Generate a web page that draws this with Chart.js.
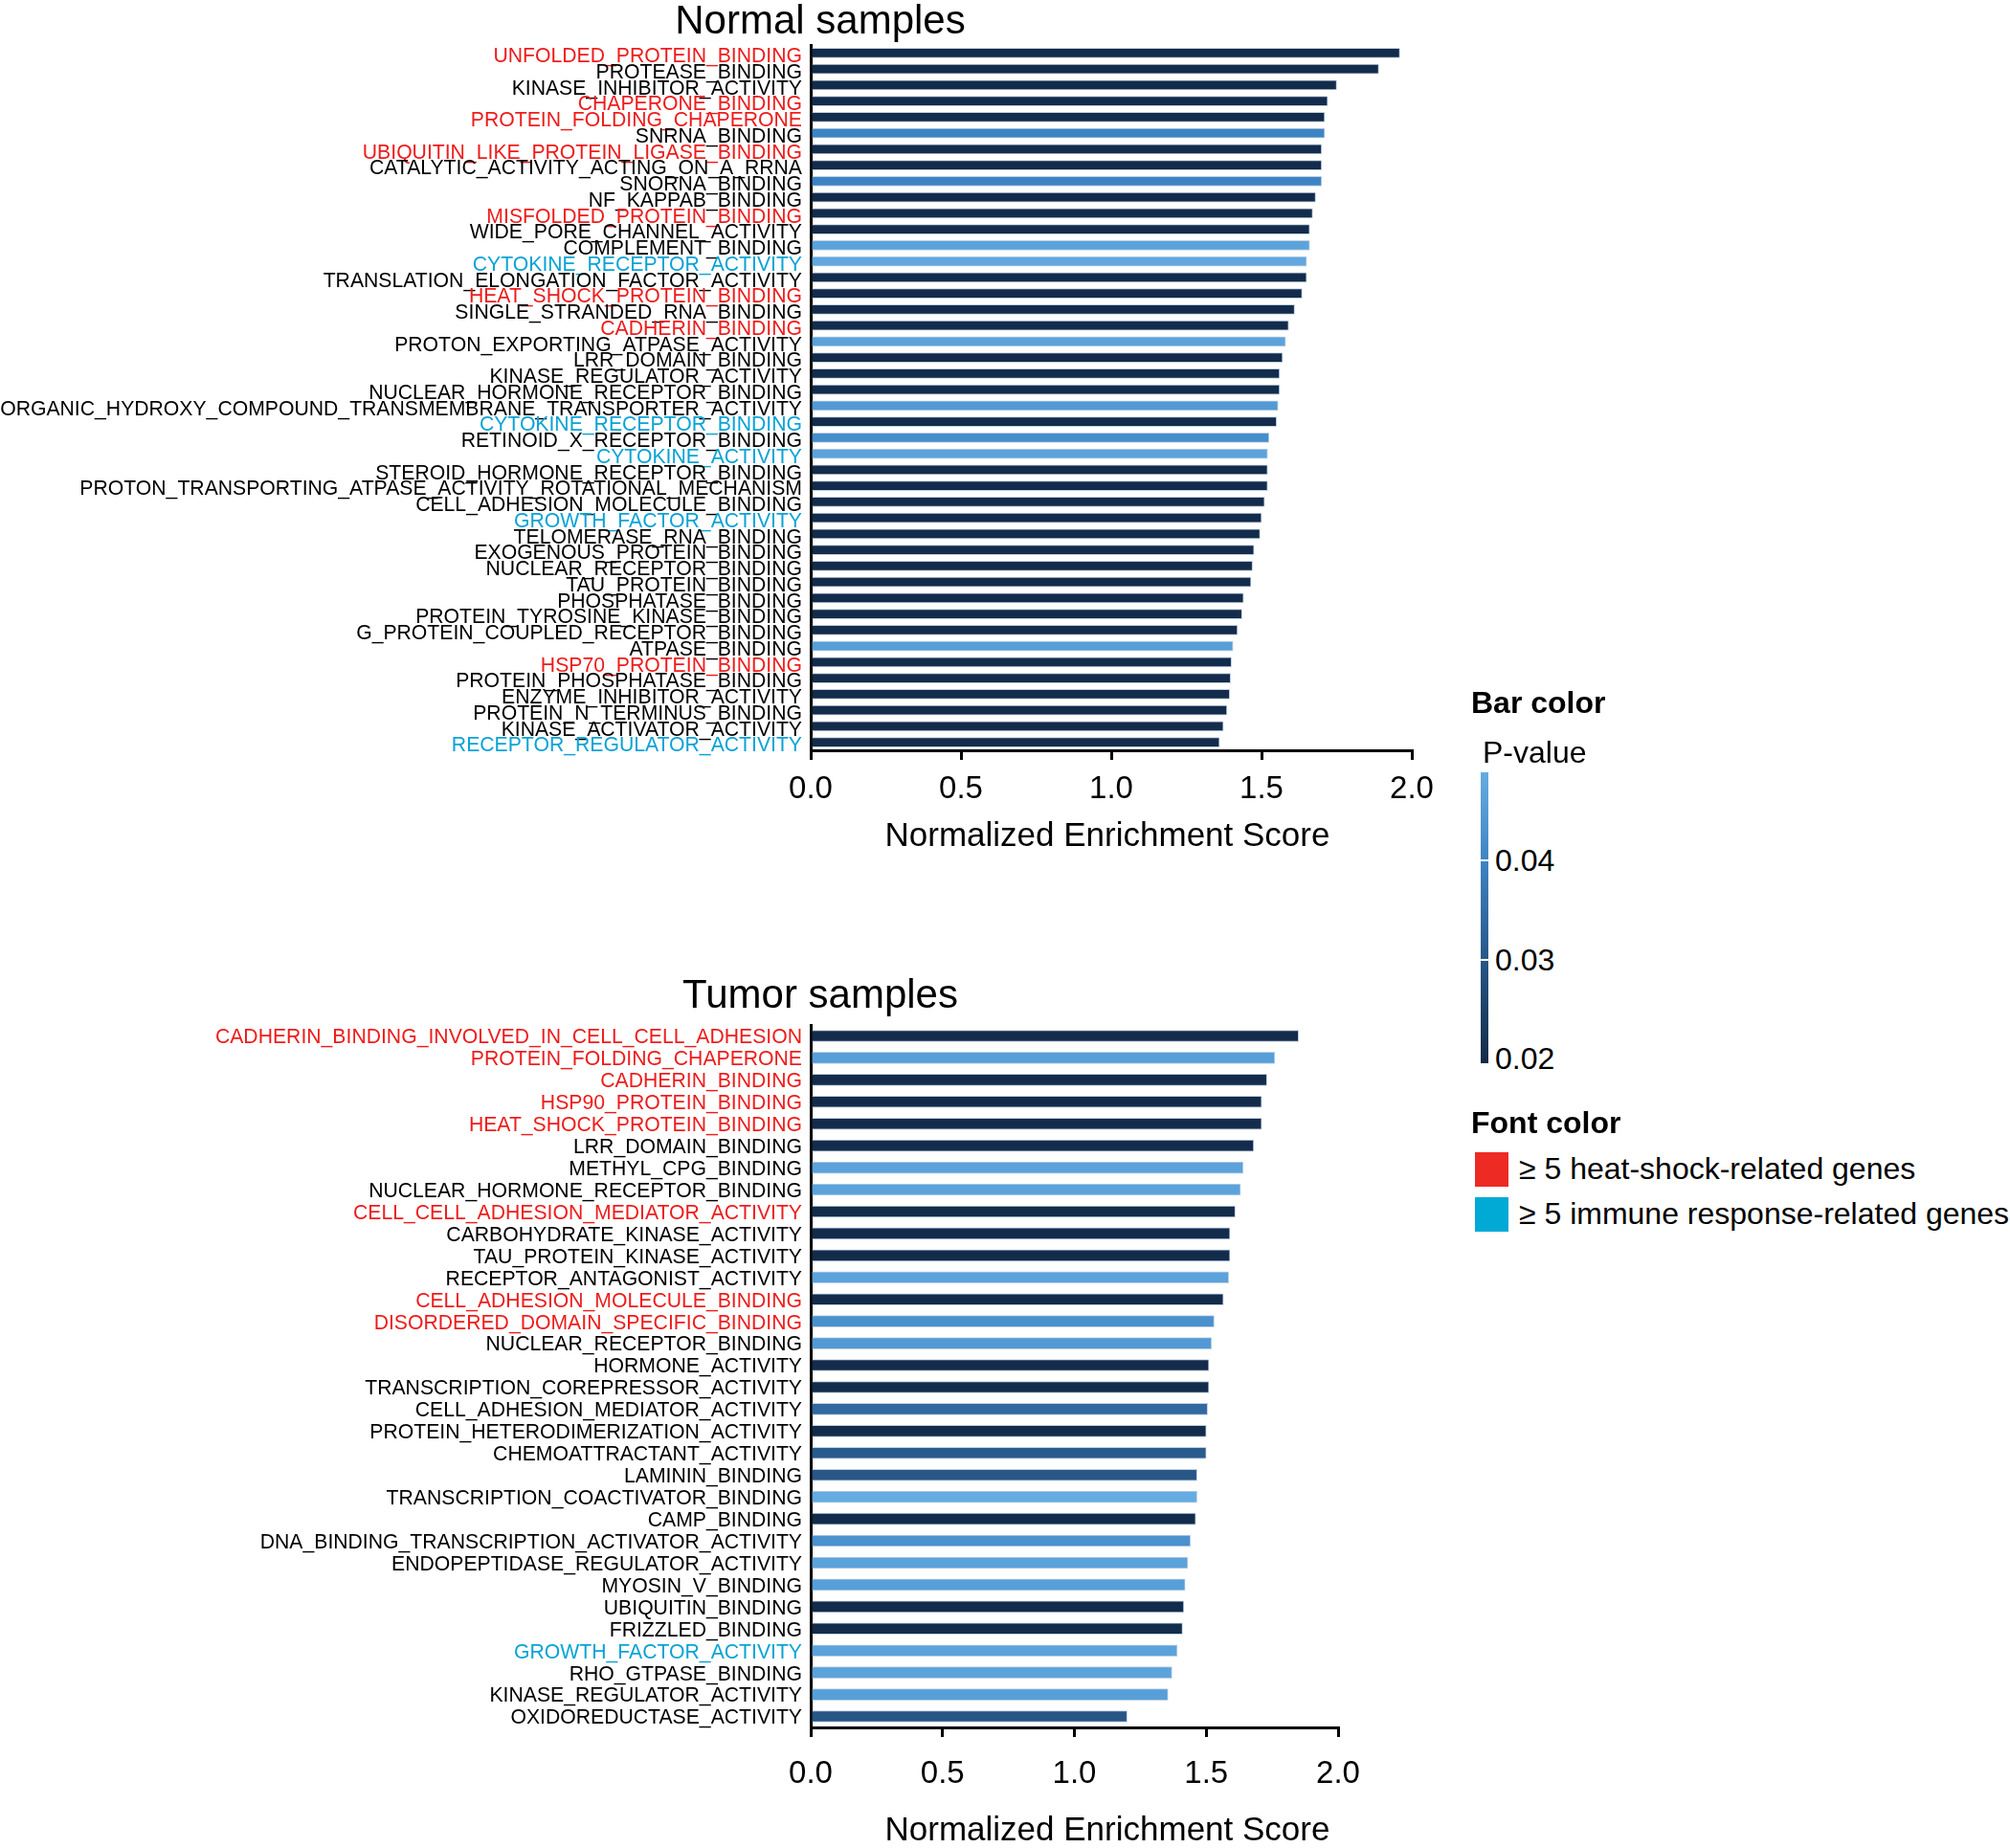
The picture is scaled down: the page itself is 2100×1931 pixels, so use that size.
<!DOCTYPE html>
<html>
<head>
<meta charset="utf-8">
<script src="https://cdn.jsdelivr.net/npm/chart.js@4.4.1/dist/chart.umd.min.js"></script>
<style>
  body { margin: 0; background: #fff; width: 2100px; height: 1931px; position: relative; overflow: hidden;
         font-family: 'Liberation Sans', Arial, sans-serif; color: #000; }
  canvas { position: absolute; left: 0; }
  #normal { top: 0; }
  #tumor { top: 1000px; }
  .lg { position: absolute; white-space: nowrap; font-size: 32px; line-height: 36px; }
  .lg.head { font-weight: bold; }
  #pbar { position: absolute; left: 1547px; top: 807px; width: 8px; height: 304px; }
  .cbtick { position: absolute; left: 1547px; width: 8px; height: 2px; background: #fff; }
  .sw { position: absolute; left: 1541px; width: 35px; height: 36px; }
</style>
</head>
<body>
<canvas id="normal" width="1540" height="900"></canvas>
<canvas id="tumor" width="1540" height="931"></canvas>

<div class="lg head" style="left:1537px; top:716px;">Bar color</div>
<div class="lg" style="left:1549px; top:768px;">P-value</div>
<div id="pbar"></div>
<div class="cbtick" style="top:898px;"></div>
<div class="cbtick" style="top:1002px;"></div>
<div class="lg" style="left:1562px; top:881px;">0.04</div>
<div class="lg" style="left:1562px; top:985px;">0.03</div>
<div class="lg" style="left:1562px; top:1088px;">0.02</div>
<div class="lg head" style="left:1537px; top:1155px;">Font color</div>
<div class="sw" style="top:1204px; background:#ee2a24;"></div>
<div class="lg" style="left:1587px; top:1203px;">≥ 5 heat-shock-related genes</div>
<div class="sw" style="top:1251px; background:#00aad4;"></div>
<div class="lg" style="left:1587px; top:1250px;">≥ 5 immune response-related genes</div>

<script>
// ---- Normal samples ----
const normalTerms = [
  'UNFOLDED_PROTEIN_BINDING', 'PROTEASE_BINDING', 'KINASE_INHIBITOR_ACTIVITY', 'CHAPERONE_BINDING',
  'PROTEIN_FOLDING_CHAPERONE', 'SNRNA_BINDING', 'UBIQUITIN_LIKE_PROTEIN_LIGASE_BINDING',
  'CATALYTIC_ACTIVITY_ACTING_ON_A_RRNA', 'SNORNA_BINDING', 'NF_KAPPAB_BINDING', 'MISFOLDED_PROTEIN_BINDING',
  'WIDE_PORE_CHANNEL_ACTIVITY', 'COMPLEMENT_BINDING', 'CYTOKINE_RECEPTOR_ACTIVITY',
  'TRANSLATION_ELONGATION_FACTOR_ACTIVITY', 'HEAT_SHOCK_PROTEIN_BINDING', 'SINGLE_STRANDED_RNA_BINDING',
  'CADHERIN_BINDING', 'PROTON_EXPORTING_ATPASE_ACTIVITY', 'LRR_DOMAIN_BINDING', 'KINASE_REGULATOR_ACTIVITY',
  'NUCLEAR_HORMONE_RECEPTOR_BINDING', 'ORGANIC_HYDROXY_COMPOUND_TRANSMEMBRANE_TRANSPORTER_ACTIVITY',
  'CYTOKINE_RECEPTOR_BINDING', 'RETINOID_X_RECEPTOR_BINDING', 'CYTOKINE_ACTIVITY',
  'STEROID_HORMONE_RECEPTOR_BINDING', 'PROTON_TRANSPORTING_ATPASE_ACTIVITY_ROTATIONAL_MECHANISM',
  'CELL_ADHESION_MOLECULE_BINDING', 'GROWTH_FACTOR_ACTIVITY', 'TELOMERASE_RNA_BINDING',
  'EXOGENOUS_PROTEIN_BINDING', 'NUCLEAR_RECEPTOR_BINDING', 'TAU_PROTEIN_BINDING', 'PHOSPHATASE_BINDING',
  'PROTEIN_TYROSINE_KINASE_BINDING', 'G_PROTEIN_COUPLED_RECEPTOR_BINDING', 'ATPASE_BINDING',
  'HSP70_PROTEIN_BINDING', 'PROTEIN_PHOSPHATASE_BINDING', 'ENZYME_INHIBITOR_ACTIVITY',
  'PROTEIN_N_TERMINUS_BINDING', 'KINASE_ACTIVATOR_ACTIVITY', 'RECEPTOR_REGULATOR_ACTIVITY'
];
const normalNES = [
  1.96, 1.89, 1.75, 1.72, 1.71, 1.71, 1.70, 1.70, 1.70, 1.68, 1.67,
  1.66, 1.66, 1.65, 1.65, 1.635, 1.61, 1.59, 1.58, 1.57, 1.56, 1.56,
  1.555, 1.55, 1.525, 1.52, 1.52, 1.52, 1.51, 1.50, 1.495, 1.475, 1.47,
  1.465, 1.44, 1.435, 1.42, 1.405, 1.40, 1.397, 1.394, 1.385, 1.373, 1.36
];
const normalP = [
  0.02, 0.02, 0.02, 0.02, 0.02, 0.040, 0.02, 0.02, 0.040, 0.02, 0.02,
  0.02, 0.047, 0.048, 0.02, 0.02, 0.02, 0.02, 0.047, 0.02, 0.02, 0.02,
  0.045, 0.02, 0.042, 0.047, 0.02, 0.02, 0.02, 0.02, 0.02, 0.02, 0.02,
  0.02, 0.02, 0.02, 0.02, 0.046, 0.02, 0.02, 0.02, 0.02, 0.02, 0.02
];
const normalGroup = [
  'heat', '', '', 'heat', 'heat', '', 'heat', '', '', '', 'heat',
  '', '', 'immune', '', 'heat', '', 'heat', '', '', '', '',
  '', 'immune', '', 'immune', '', '', '', 'immune', '', '', '',
  '', '', '', '', '', 'heat', '', '', '', '', 'immune'
];

// ---- Tumor samples ----
const tumorTerms = [
  'CADHERIN_BINDING_INVOLVED_IN_CELL_CELL_ADHESION', 'PROTEIN_FOLDING_CHAPERONE', 'CADHERIN_BINDING',
  'HSP90_PROTEIN_BINDING', 'HEAT_SHOCK_PROTEIN_BINDING', 'LRR_DOMAIN_BINDING', 'METHYL_CPG_BINDING',
  'NUCLEAR_HORMONE_RECEPTOR_BINDING', 'CELL_CELL_ADHESION_MEDIATOR_ACTIVITY', 'CARBOHYDRATE_KINASE_ACTIVITY',
  'TAU_PROTEIN_KINASE_ACTIVITY', 'RECEPTOR_ANTAGONIST_ACTIVITY', 'CELL_ADHESION_MOLECULE_BINDING',
  'DISORDERED_DOMAIN_SPECIFIC_BINDING', 'NUCLEAR_RECEPTOR_BINDING', 'HORMONE_ACTIVITY',
  'TRANSCRIPTION_COREPRESSOR_ACTIVITY', 'CELL_ADHESION_MEDIATOR_ACTIVITY', 'PROTEIN_HETERODIMERIZATION_ACTIVITY',
  'CHEMOATTRACTANT_ACTIVITY', 'LAMININ_BINDING', 'TRANSCRIPTION_COACTIVATOR_BINDING', 'CAMP_BINDING',
  'DNA_BINDING_TRANSCRIPTION_ACTIVATOR_ACTIVITY', 'ENDOPEPTIDASE_REGULATOR_ACTIVITY', 'MYOSIN_V_BINDING',
  'UBIQUITIN_BINDING', 'FRIZZLED_BINDING', 'GROWTH_FACTOR_ACTIVITY', 'RHO_GTPASE_BINDING',
  'KINASE_REGULATOR_ACTIVITY', 'OXIDOREDUCTASE_ACTIVITY'
];
const tumorNES = [
  1.85, 1.76, 1.73, 1.71, 1.71, 1.68, 1.64, 1.63, 1.61, 1.59, 1.59,
  1.585, 1.565, 1.53, 1.52, 1.51, 1.51, 1.505, 1.50, 1.50, 1.465, 1.465,
  1.46, 1.44, 1.43, 1.42, 1.415, 1.41, 1.39, 1.37, 1.355, 1.20
];
const tumorP = [
  0.02, 0.046, 0.02, 0.02, 0.02, 0.02, 0.047, 0.047, 0.02, 0.02, 0.02,
  0.047, 0.02, 0.043, 0.045, 0.02, 0.02, 0.034, 0.02, 0.031, 0.030, 0.049,
  0.02, 0.043, 0.047, 0.046, 0.02, 0.02, 0.047, 0.047, 0.046, 0.030
];
const tumorGroup = [
  'heat', 'heat', 'heat', 'heat', 'heat', '', '', '', 'heat', '', '',
  '', 'heat', 'heat', '', '', '', '', '', '', '', '',
  '', '', '', '', '', '', 'immune', '', '', ''
];

const xTicks = [0, 0.5, 1.0, 1.5, 2.0];

// p-value colour scale (same stops feed the colour bar)
const pStops = [0.0195, 0.03, 0.04, 0.049];
const pRGB = [[19, 42, 72], [40, 86, 135], [62, 132, 196], [100, 172, 226]];
const labelColor = { heat: '#ee1c1c', immune: '#0aa3d6', '': '#000000' };

function pColor(p) {
  if (p <= pStops[0]) return `rgb(${pRGB[0].join(',')})`;
  for (let i = 1; i < pStops.length; i++) {
    if (p <= pStops[i]) {
      const t = (p - pStops[i - 1]) / (pStops[i] - pStops[i - 1]);
      const c = pRGB[i - 1].map((v, k) => Math.round(v + t * (pRGB[i][k] - v)));
      return `rgb(${c.join(',')})`;
    }
  }
  return `rgb(${pRGB[pRGB.length - 1].join(',')})`;
}

// colour bar
const lo = pStops[0], hi = pStops[pStops.length - 1];
document.getElementById('pbar').style.background = 'linear-gradient(to top,' +
  pStops.map((s, i) => `rgb(${pRGB[i].join(',')}) ${((s - lo) / (hi - lo) * 100).toFixed(1)}%`).join(',') + ')';

Chart.defaults.font.family = "'Liberation Sans', Arial, sans-serif";
Chart.defaults.color = '#000';

// panel title + axis title, placed by hand like in the figure
const panelText = {
  id: 'panelText',
  afterDraw(chart, args, opts) {
    const ctx = chart.ctx;
    ctx.save();
    ctx.fillStyle = '#000';
    ctx.textAlign = 'center';
    ctx.textBaseline = 'middle';
    opts.items.forEach(t => {
      ctx.font = t.size + "px 'Liberation Sans', Arial, sans-serif";
      ctx.fillText(t.text, t.x, t.y);
    });
    ctx.restore();
  }
};

function makeChart(id, terms, nes, pvals, groups, cfg) {
  return new Chart(document.getElementById(id), {
    type: 'bar',
    data: {
      labels: terms,
      datasets: [{
        data: nes,
        backgroundColor: pvals.map(pColor),
        borderColor: 'rgba(175,198,222,0.8)',
        borderWidth: 1,
        barThickness: cfg.barThickness
      }]
    },
    options: {
      indexAxis: 'y',
      responsive: false,
      animation: false,
      devicePixelRatio: 1,
      layout: { padding: { top: cfg.top, right: cfg.right, left: 0, bottom: 0 } },
      plugins: {
        legend: { display: false },
        tooltip: { enabled: false },
        panelText: { items: [
          { text: cfg.title, x: 857, y: cfg.titleY, size: 42 },
          { text: 'Normalized Enrichment Score', x: 1157, y: cfg.axisTitleY, size: 35 }
        ] }
      },
      scales: {
        x: {
          min: 0, max: 2,
          afterBuildTicks: s => { s.ticks = xTicks.map(v => ({ value: v })); },
          afterFit: s => { s.height = cfg.xHeight; },
          border: { display: true, color: '#000', width: 3 },
          grid: { drawOnChartArea: false, drawTicks: true, tickLength: 10, color: '#000', lineWidth: 3 },
          ticks: { padding: cfg.tickPad, font: { size: 33 }, callback: v => Number(v).toFixed(1) }
        },
        y: {
          afterFit: s => { s.width = 847; },
          border: { display: true, color: '#000', width: 3 },
          grid: { display: false, drawTicks: false, tickLength: 0 },
          ticks: { autoSkip: false, padding: 9, labelOffset: cfg.labelOffset, font: { size: 21.2 },
                   color: c => labelColor[groups[c.index]] }
        }
      }
    },
    plugins: [panelText]
  });
}

makeChart('normal', normalTerms, normalNES, normalP, normalGroup,
  { title: 'Normal samples', titleY: 23, axisTitleY: 874, top: 47, right: 65, xHeight: 116,
    barThickness: 10, tickPad: 11, labelOffset: 4 });
makeChart('tumor', tumorTerms, tumorNES, tumorP, tumorGroup,
  { title: 'Tumor samples', titleY: 41, axisTitleY: 913, top: 71, right: 142, xHeight: 126,
    barThickness: 12, tickPad: 19, labelOffset: 2 });
</script>
</body>
</html>
